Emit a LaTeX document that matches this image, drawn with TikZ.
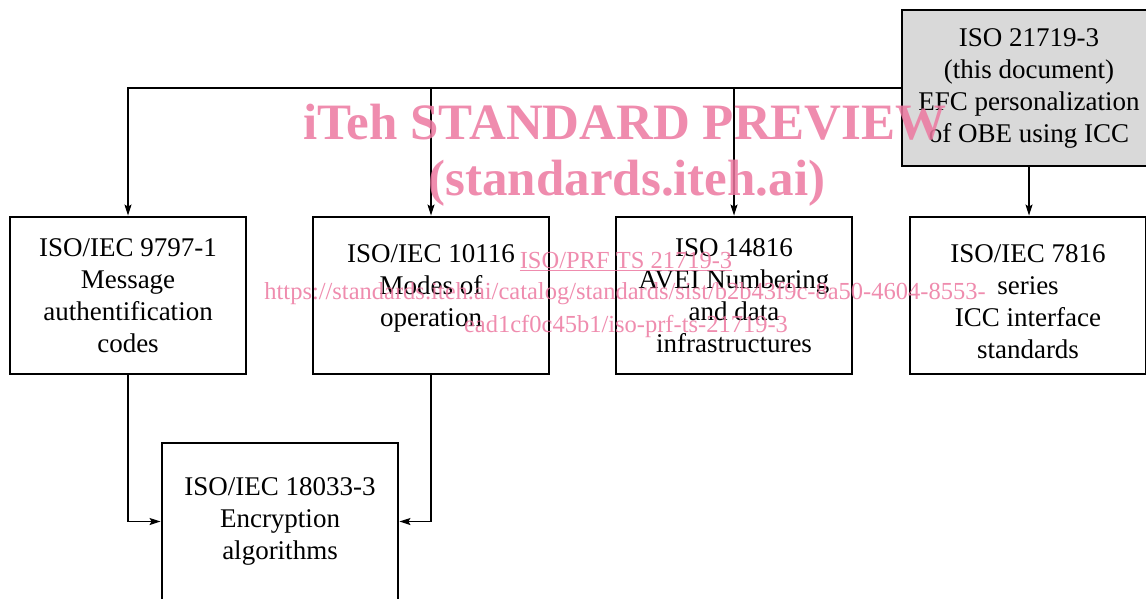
\documentclass[tikz,border=0pt]{standalone}
\usepackage{fontspec}
\setmainfont{Liberation Serif}
\usetikzlibrary{arrows.meta}
\definecolor{wm}{RGB}{236,120,160}
\definecolor{boxgray}{RGB}{217,217,217}
\begin{document}
\begin{tikzpicture}[x=1pt,y=-1pt,
  stdbox/.style={draw=black,line width=2.9pt,minimum width=236pt,minimum height=157pt,
    align=center,inner sep=0pt,font=\fontsize{27}{32}\selectfont},
  boxtext/.style={align=center,inner sep=0pt,font=\fontsize{27}{32}\selectfont},
  conn/.style={line width=1.2pt,-{Stealth[length=11pt,width=7pt,inset=2pt]}},
  wmtext/.style={text=wm,opacity=0.85,inner sep=0pt}]
\useasboundingbox (0,0) rectangle (1146,598);
\begin{scope}
\clip (0,0) rectangle (1146,598);
\node[stdbox,fill=boxgray,minimum width=254pt,minimum height=156pt] (top) at (1029,88)
  {ISO 21719-3\\(this document)\\EFC personalization\\of OBE using ICC};
\node[stdbox] (b1) at (128,295.5) {ISO/IEC 9797-1\\Message\\authentification\\codes};
\node[stdbox] (b2) at (431,295.5) {};
\node[boxtext] (b2t) at ([yshift=7pt]b2.center) {ISO/IEC 10116\\Modes of\\operation};
\node[stdbox] (b3) at (734,295.5) {ISO 14816\\AVEI Numbering\\and data\\infrastructures};
\node[stdbox] (b4) at (1028,295.5) {};
\node[boxtext] (b4t) at ([yshift=-6pt]b4.center) {ISO/IEC 7816\\series\\ICC interface\\standards};
\node[stdbox] (b5) at (280,521.5) {ISO/IEC 18033-3\\Encryption\\algorithms};

\draw[conn] (top.west) -| (b1.north);
\draw[conn] (b2.north |- top.west) -- (b2.north);
\draw[conn] (b3.north |- top.west) -- (b3.north);
\draw[conn] (top.south) -- (top.south |- b4.north);
\draw[conn] (b1.south) |- (b5.west);
\draw[conn] (b2.south) |- (b5.east);

\node[wmtext,font=\bfseries\fontsize{51}{51}\selectfont] (wm1) at (625,122) {iTeh STANDARD PREVIEW};
\node[wmtext,font=\bfseries\fontsize{51}{51}\selectfont] (wm2) at (627,183) {(standards.iteh.ai)};
\node[wmtext,font=\fontsize{24.5}{25}\selectfont] (wm3) at (626,262) {\underline{ISO/PRF TS 21719-3}};
\node[wmtext,font=\fontsize{24.5}{25}\selectfont] (wm4) at (625,294) {https://standards.iteh.ai/catalog/standards/sist/b2b43f9c-8a50-4604-8553-};
\node[wmtext,font=\fontsize{24.5}{25}\selectfont] (wm5) at (626,326) {ead1cf0c45b1/iso-prf-ts-21719-3};
\end{scope}
\end{tikzpicture}
\end{document}
